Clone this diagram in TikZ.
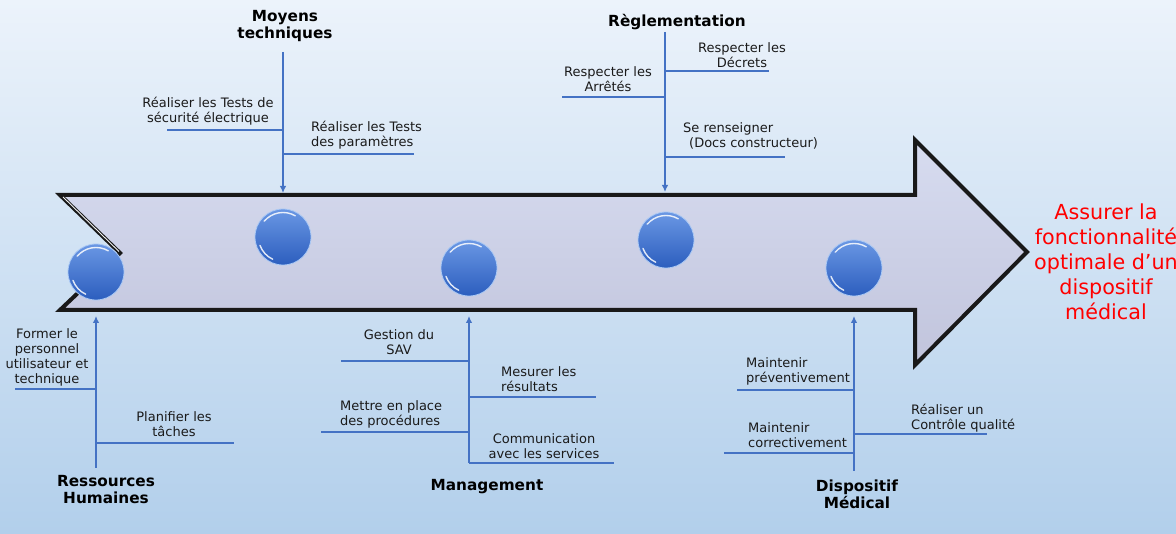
\documentclass[tikz,border=0pt]{standalone}
\usepackage{fontspec}
\setmainfont{DejaVu Sans}
\usetikzlibrary{arrows.meta}
\definecolor{bgtop}{HTML}{ECF3FB}
\definecolor{bgbot}{HTML}{B2CFEB}
\definecolor{arrtop}{HTML}{D7DCF0}
\definecolor{arrbot}{HTML}{C1C4DC}
\definecolor{brline}{HTML}{4472C4}
\definecolor{balltop}{HTML}{6A97E4}
\definecolor{ballbot}{HTML}{2C5EBE}
\definecolor{ballrim}{HTML}{A9C8F4}
\definecolor{txt}{HTML}{1A1A1A}
\newcommand\glassball[2]{%
  \node[ball] (#1) at (#2) {};
  \draw[shine] ([shift={(140:24.5pt)}]#1.center) arc[start angle=140, end angle=60, radius=24.5pt];
  \draw[shine] ([shift={(200:24.5pt)}]#1.center) arc[start angle=200, end angle=245, radius=24.5pt];
}
\begin{document}
\begin{tikzpicture}[x=1pt,y=-1pt,
  lbl/.style={font=\fontsize{13}{15}\selectfont, text=txt, align=center, inner sep=0pt},
  lbll/.style={lbl, align=left, anchor=west},
  ttl/.style={font=\fontsize{15.3}{17}\selectfont\bfseries, text=black, align=center, inner sep=0pt},
  goal/.style={font=\fontsize{20.7}{25}\selectfont, text=red, align=center, inner sep=0pt},
  br/.style={draw=brline, line width=1.3pt},
  stem/.style={br, -{Latex[length=7pt,width=6.5pt]}},
  ball/.style={circle, minimum size=56pt, inner sep=0pt, top color=balltop, bottom color=ballbot, draw=ballrim, line width=0.8pt},
  shine/.style={draw=white, line width=1.4pt, line cap=round, opacity=0.85},
]
% background
\useasboundingbox (0,0) rectangle (1176,534);
\shade[top color=bgtop, bottom color=bgbot] (0,0) rectangle (1176,534);

% main arrow
\shade[top color=arrtop, bottom color=arrbot]
  (60,195) -- (915,195) -- (915,140) -- (1027,252) -- (915,365) -- (915,310) -- (60,310) -- (120,253) -- cycle;
\draw[draw=black!90, line width=4pt, line join=miter, miter limit=4]
  (60,195) -- (915,195) -- (915,140) -- (1027,252) -- (915,365) -- (915,310) -- (60,310) -- (120,253) -- cycle;
\draw[white!90!gray, line width=0.9pt] (63,197) -- (119,251.5);

% balls
\glassball{b1}{96,272}
\glassball{b2}{283,237}
\glassball{b3}{469,268}
\glassball{b4}{666,240}
\glassball{b5}{854,268}

% goal text
\node[goal] (goal) at (1106,262) {Assurer la\\fonctionnalité\\optimale d’un\\dispositif\\médical};

% ---------- Moyens techniques ----------
\node[ttl] (mt) at (285,26.5) {Moyens\\techniques};
\coordinate (mt0) at (283,52);
\coordinate (mt1) at (283,193);
\draw[stem] (mt0) -- (mt1);
\coordinate (mtA) at (283,130); \coordinate (mtAe) at (167,130);
\coordinate (mtB) at (283,154); \coordinate (mtBe) at (414,154);
\draw[br] (mtA) -- (mtAe);
\draw[br] (mtB) -- (mtBe);
\node[lbl] (mtAt) at (208,111) {Réaliser les Tests de\\sécurité électrique};
\node[lbll] (mtBt) at (311,135) {Réaliser les Tests\\des paramètres};

% ---------- Reglementation ----------
\node[ttl] (rg) at (677,22.5) {Règlementation};
\coordinate (rg0) at (665,32);
\coordinate (rg1) at (665,192);
\draw[stem] (rg0) -- (rg1);
\coordinate (rgA) at (665,71); \coordinate (rgAe) at (769,71);
\coordinate (rgB) at (665,97); \coordinate (rgBe) at (562,97);
\coordinate (rgC) at (665,157); \coordinate (rgCe) at (785,157);
\draw[br] (rgA) -- (rgAe);
\draw[br] (rgB) -- (rgBe);
\draw[br] (rgC) -- (rgCe);
\node[lbl] (rgAt) at (742,55) {Respecter les\\Décrets};
\node[lbl] (rgBt) at (608,79) {Respecter les\\Arrêtés};
\node[lbll] (rgCt) at (683,136) {Se renseigner\\\hspace{6pt}(Docs constructeur)};

% ---------- Ressources Humaines ----------
\node[ttl] (rh) at (106,489.5) {Ressources\\Humaines};
\coordinate (rh0) at (96,468);
\coordinate (rh1) at (96,316);
\draw[stem] (rh0) -- (rh1);
\coordinate (rhA) at (96,389); \coordinate (rhAe) at (15,389);
\coordinate (rhB) at (96,443); \coordinate (rhBe) at (234,443);
\draw[br] (rhA) -- (rhAe);
\draw[br] (rhB) -- (rhBe);
\node[lbl] (rhAt) at (47,357.5) {Former le\\personnel\\utilisateur et\\technique};
\node[lbl] (rhBt) at (174,424.5) {Planifier les\\tâches};

% ---------- Management ----------
\node[ttl] (mg) at (487,487) {Management};
\coordinate (mg0) at (469,463);
\coordinate (mg1) at (469,316);
\draw[stem] (mg0) -- (mg1);
\coordinate (mgA) at (469,361); \coordinate (mgAe) at (341,361);
\coordinate (mgB) at (469,397); \coordinate (mgBe) at (596,397);
\coordinate (mgC) at (469,432); \coordinate (mgCe) at (321,432);
\coordinate (mgD) at (469,463); \coordinate (mgDe) at (614,463);
\draw[br] (mgA) -- (mgAe);
\draw[br] (mgB) -- (mgBe);
\draw[br] (mgC) -- (mgCe);
\draw[br] (mgD) -- (mgDe);
\node[lbl] (mgAt) at (399,342) {Gestion du\\SAV};
\node[lbll] (mgBt) at (501,379) {Mesurer les\\résultats};
\node[lbll] (mgCt) at (340,414) {Mettre en place\\des procédures};
\node[lbl] (mgDt) at (544,446) {Communication\\avec les services};

% ---------- Dispositif Medical ----------
\node[ttl] (dm) at (857,494.5) {Dispositif\\Médical};
\coordinate (dm0) at (854,471);
\coordinate (dm1) at (854,316);
\draw[stem] (dm0) -- (dm1);
\coordinate (dmA) at (854,390); \coordinate (dmAe) at (737,390);
\coordinate (dmB) at (854,434); \coordinate (dmBe) at (987,434);
\coordinate (dmC) at (854,453); \coordinate (dmCe) at (724,453);
\draw[br] (dmA) -- (dmAe);
\draw[br] (dmB) -- (dmBe);
\draw[br] (dmC) -- (dmCe);
\node[lbll] (dmAt) at (746,371) {Maintenir\\préventivement};
\node[lbll] (dmBt) at (911,418) {Réaliser un\\Contrôle qualité};
\node[lbll] (dmCt) at (748,435) {Maintenir\\correctivement};
\end{tikzpicture}
\end{document}
